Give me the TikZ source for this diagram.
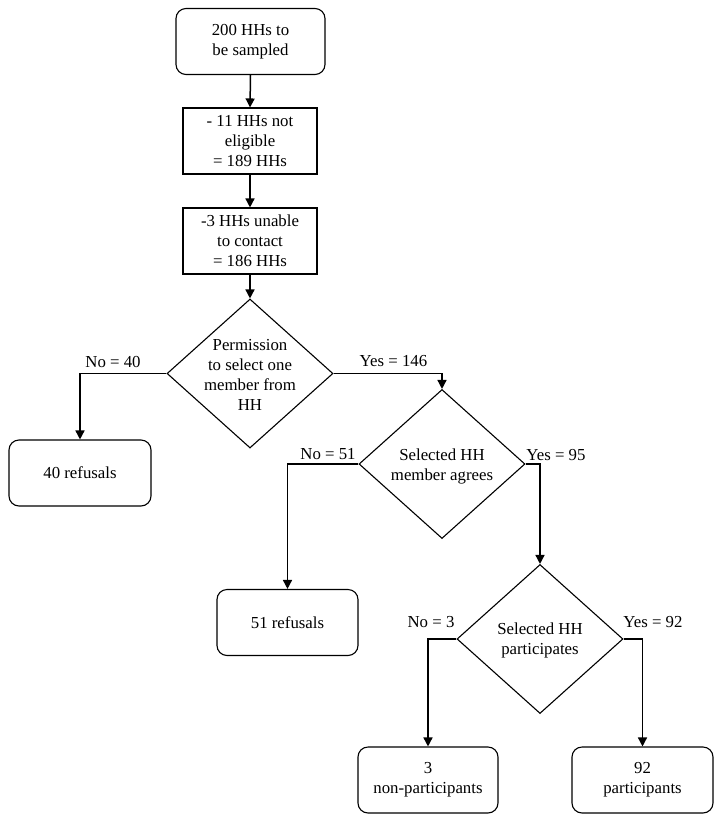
\documentclass[tikz,border=0pt]{standalone}
\usepackage{fontspec}
\setmainfont{Liberation Serif}
\usetikzlibrary{shapes.geometric,arrows.meta}
\begin{document}
\begin{tikzpicture}[x=1pt,y=-1pt,
  every node/.style={font=\fontsize{16.8}{20}\selectfont},
  rbox/.style={draw,line width=1.1pt,rounded corners=10pt,minimum width=#1,minimum height=66pt,align=center,inner sep=0pt},
  sbox/.style={draw,line width=1.1pt,minimum width=134pt,minimum height=66pt,align=center,inner sep=0pt},
  dbox/.style={draw,line width=1.1pt,diamond,minimum width=166pt,minimum height=149pt,inner sep=0pt},
  dtext/.style={align=center,inner sep=0pt},
  arr/.style={line width=1.5pt,-{Triangle[length=9pt,width=9pt]}},
  lbl/.style={inner sep=0pt}]
\useasboundingbox (0,0) rectangle (725,823);
\node[rbox=149pt] (top) at (250.5,41.5) {200 HHs to\\be sampled};
\node[sbox] (b2) at (250,141) {- 11 HHs not\\eligible\\= 189 HHs};
\node[sbox] (b3) at (250,241) {-3 HHs unable\\to contact\\= 186 HHs};
\node[dbox] (d1) at (250,373.5) {};
\node[dtext] (t1) at (250,375) {Permission\\to select one\\member from\\HH};
\node[rbox=142pt] (r40) at (80,473) {40 refusals};
\node[dbox] (d2) at (442,464) {};
\node[dtext] (t2) at (442,466) {Selected HH\\member agrees};
\node[rbox=141pt] (r51) at (287.5,622.5) {51 refusals};
\node[dbox] (d3) at (540,639) {};
\node[dtext] (t3) at (540,640) {Selected HH\\participates};
\node[rbox=140pt] (np) at (428,780) {3\\non-participants};
\node[rbox=141pt] (pp) at (642.5,780) {92\\participants};

\draw[arr] (top.south) -- (b2.north);
\draw[arr] (b2.south) -- (b3.north);
\draw[arr] (b3.south) -- (d1.north);
\draw[arr] (d1.west) -| (r40.north);
\draw[arr] (d1.east) -| (d2.north);
\draw[arr] (d2.west) -| (r51.north);
\draw[arr] (d2.east) -| (d3.north);
\draw[arr] (d3.west) -| (np.north);
\draw[arr] (d3.east) -| (pp.north);

\node[lbl] (l1) at (113,362) {No = 40};
\node[lbl] (l2) at (393.5,361) {Yes = 146};
\node[lbl] (l3) at (328,454) {No = 51};
\node[lbl] (l4) at (556,455) {Yes = 95};
\node[lbl] (l5) at (431,622) {No = 3};
\node[lbl] (l6) at (653,622) {Yes = 92};
\end{tikzpicture}
\end{document}
